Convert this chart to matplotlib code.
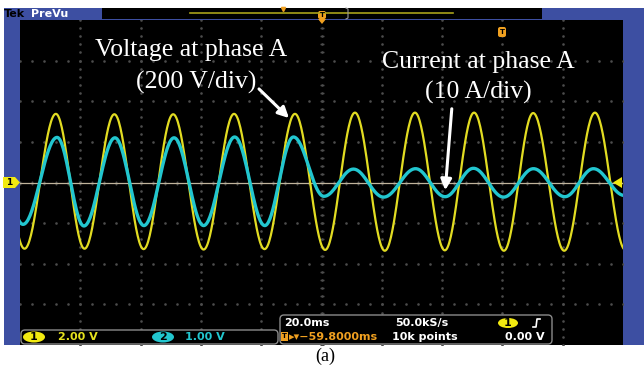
import numpy as np
import matplotlib
matplotlib.use('Agg')
from matplotlib import pyplot as plt
from matplotlib.patches import Rectangle, FancyBboxPatch, Ellipse, Polygon

# ---- values (time in ms, level in divisions) ----
# voltage (ch1) extrema, alternating peak / trough
v_ext_t = [-8.5, 1.5, 11.9, 21.4, 31.3, 41.0, 50.8, 60.9, 71.0, 81.1, 91.2,
           101.2, 111.1, 121.0, 131.0, 140.9, 150.6, 160.5, 170.2, 180.5, 190.7, 200.8]
v_ext_lvl = [1.68, -1.63, 1.69, -1.63, 1.68, -1.64, 1.68, -1.65, 1.69, -1.64, 1.69,
             -1.66, 1.72, -1.68, 1.72, -1.67, 1.72, -1.68, 1.71, -1.68, 1.72, -1.66]
# current (ch2) extrema, load drops just before 100 ms
i_ext_t = [-9.0, 1.0, 12.3, 21.2, 31.5, 41.1, 51.1, 60.9, 71.2, 81.2, 90.7,
           100.8, 110.6, 120.6, 131.2, 141.0, 150.4, 160.4, 170.3, 180.7, 190.2, 200.5]
i_ext_lvl = [1.10, -1.03, 1.11, -1.07, 1.10, -1.06, 1.10, -1.06, 1.12, -1.06, 1.12,
             -0.34, 0.33, -0.36, 0.34, -0.35, 0.35, -0.36, 0.34, -0.35, 0.34, -0.32]

ch1_scale = '2.00 V'
ch2_scale = '1.00 V'
time_div = '20.0ms'
sample_rate = '50.0kS/s'
trig_pos = '\u25b8\u25be\u221259.8000ms'
rec_len = '10k points'
trig_lvl = '0.00 V'


def trace(ext_t, ext_lvl, n=40):
    # half-cosine segments between the read extrema
    t, v = [], []
    for k in range(len(ext_t) - 1):
        s = np.linspace(0, 1, n)
        t.append(ext_t[k] + (ext_t[k + 1] - ext_t[k]) * s)
        v.append(ext_lvl[k] + (ext_lvl[k + 1] - ext_lvl[k]) * (1 - np.cos(np.pi * s)) / 2)
    return np.concatenate(t), np.concatenate(v)


W, H = 644, 372
fig = plt.figure(figsize=(W / 100, H / 100), dpi=100)
fig.patch.set_facecolor('white')

blue = '#3d4fa2'
yel = '#e2dc22'
cyan = '#22c6cf'
orange = '#f0a020'

# background frame (pixel coords)
bg = fig.add_axes([0, 0, 1, 1])
bg.set_xlim(0, W)
bg.set_ylim(H, 0)
bg.axis('off')
bg.add_patch(Rectangle((4, 8), W - 4, 337, color=blue, lw=0))
bg.add_patch(Rectangle((102, 8), 440, 11, color='black', lw=0))

# scope screen
gx0, gx1, gy0, gy1 = 20, 623, 20, 345
sc = fig.add_axes([gx0 / W, (H - gy1) / H, (gx1 - gx0) / W, (gy1 - gy0) / H])
sc.set_facecolor('black')
sc.set_xlim(0, 200)
sc.set_ylim(-4.0, 4.0)
for s in sc.spines.values():
    s.set_visible(False)
sc.set_xticks([])
sc.set_yticks([])

# graticule dots
gc = '#4c4c4c'
for xv in np.arange(20, 200, 20):
    yy = np.arange(-4, 4.01, 0.2)
    sc.plot(np.full_like(yy, xv), yy, ls='none', marker='s', ms=0.8, color=gc)
for yv in np.arange(-3, 4, 1):
    xx = np.arange(0, 200.1, 4)
    sc.plot(xx, np.full_like(xx, yv), ls='none', marker='s', ms=0.8, color=gc)
# centre crosshair ticks
xx = np.arange(0, 200.1, 4)
sc.plot(xx, np.zeros_like(xx), ls='none', marker='|', ms=3, color=gc)
yy = np.arange(-4, 4.01, 0.2)
sc.plot(np.full_like(yy, 100), yy, ls='none', marker='_', ms=3, color=gc)

# ground reference line
sc.axhline(0, color='#c0b49c', lw=0.9, zorder=2)

tv, vv = trace(v_ext_t, v_ext_lvl)
ti, iv = trace(i_ext_t, i_ext_lvl)
sc.plot(tv, vv, color=yel, lw=1.6, zorder=3)
sc.plot(ti, iv, color=cyan, lw=2.4, zorder=4)

# overlay (pixel coords)
ov = fig.add_axes([0, 0, 1, 1])
ov.set_xlim(0, W)
ov.set_ylim(H, 0)
ov.axis('off')
ov.patch.set_alpha(0)

# top bar
ov.text(4, 14, 'Tek', color='black', fontsize=8, fontweight='bold', va='center', ha='left')
ov.text(31, 14, 'PreVu', color='white', fontsize=8, fontweight='bold', va='center', ha='left')
ov.plot([190, 453], [13, 13], color='#a9a21a', lw=1.2)
ov.plot([346, 348, 348, 346], [8, 9, 18, 19], color='#9a9a9a', lw=0.8)
ov.plot([283], [9], marker='v', ms=3, color=orange)
ov.add_patch(FancyBboxPatch((318, 11), 8, 8, boxstyle='round,pad=0,rounding_size=2', color=orange, lw=0))
ov.text(322, 15, 'T', color='black', fontsize=5, fontweight='bold', ha='center', va='center')
ov.add_patch(Polygon([[318, 19], [326, 19], [322, 24]], color=orange, lw=0))
ov.add_patch(FancyBboxPatch((498, 27), 8, 10, boxstyle='round,pad=0,rounding_size=2', color=orange, lw=0))
ov.text(502, 32, 'T', color='black', fontsize=5, fontweight='bold', ha='center', va='center')

# channel markers
ov.add_patch(Polygon([[3, 177], [15, 177], [20, 182.5], [15, 188], [3, 188]], color='#f2ea10', lw=0))
ov.text(9.5, 182.5, '1', color='black', fontsize=6.5, fontweight='bold', ha='center', va='center')
ov.add_patch(Polygon([[622, 177], [622, 188], [613, 182.5]], color='#f2ea10', lw=0))

# annotations
sf = ['Liberation Serif', 'DejaVu Serif']
ov.text(191, 50, 'Voltage at phase A', color='white', fontsize=18.5, family=sf, ha='center', va='center')
ov.text(196, 82, '(200 V/div)', color='white', fontsize=18.5, family=sf, ha='center', va='center')
ov.text(478, 62, 'Current at phase A', color='white', fontsize=18.5, family=sf, ha='center', va='center')
ov.text(478, 92, '(10 A/div)', color='white', fontsize=18.5, family=sf, ha='center', va='center')
ov.annotate('', xy=(291, 120), xytext=(257, 87),
            arrowprops=dict(arrowstyle='-|>', color='white', lw=2.2, mutation_scale=16))
ov.annotate('', xy=(445, 193), xytext=(452, 106),
            arrowprops=dict(arrowstyle='-|>', color='white', lw=2.2, mutation_scale=16))

# readout boxes
ov.add_patch(FancyBboxPatch((21, 330), 257, 14, boxstyle='round,pad=0,rounding_size=4',
                            fc='black', ec='#8a8a8a', lw=1))
ov.add_patch(FancyBboxPatch((280, 315), 272, 29, boxstyle='round,pad=0,rounding_size=4',
                            fc='black', ec='#8a8a8a', lw=1))
rf = dict(fontsize=8, fontweight='bold', va='center', family='DejaVu Sans')
ov.add_patch(Ellipse((34, 337), 22, 11, color='#f2ea10', lw=0))
ov.text(34, 337, '1', color='black', ha='center', **rf)
ov.text(58, 337, ch1_scale, color='#e6e21e', ha='left', **rf)
ov.add_patch(Ellipse((163, 337), 22, 11, color=cyan, lw=0))
ov.text(163, 337, '2', color='black', ha='center', **rf)
ov.text(185, 337, ch2_scale, color=cyan, ha='left', **rf)

ov.text(284, 323, time_div, color='white', ha='left', **rf)
ov.text(395, 323, sample_rate, color='white', ha='left', **rf)
ov.add_patch(Ellipse((508, 323), 20, 10, color='#f2ea10', lw=0))
ov.text(508, 323, '1', color='black', ha='center', **rf)
ov.plot([533, 536, 537, 540], [327, 327, 319, 319], color='white', lw=1.2)
ov.add_patch(Rectangle((281, 332), 7, 9, color=orange, lw=0))
ov.text(284.5, 336.5, 'T', color='black', fontsize=5, fontweight='bold', ha='center', va='center')
ov.text(289, 337, trig_pos, color=orange, ha='left', **rf)
ov.text(392, 337, rec_len, color='white', ha='left', **rf)
ov.text(545, 337, trig_lvl, color='white', ha='right', **rf)

ov.text(325, 356, '(a)', color='black', fontsize=13, family=sf, ha='center', va='center')

fig.savefig('out.png', dpi=100, facecolor='white')
